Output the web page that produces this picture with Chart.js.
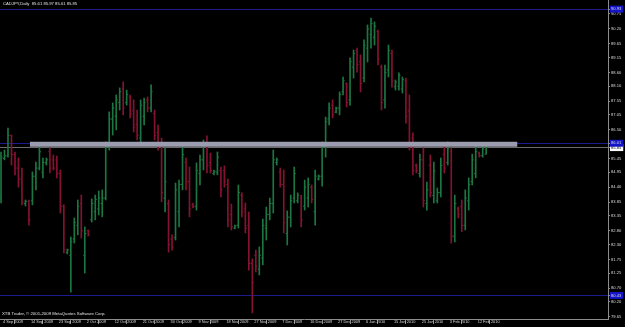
<!DOCTYPE html>
<html>
<head>
<meta charset="utf-8">
<script src="https://cdn.jsdelivr.net/npm/chart.js@4.4.1/dist/chart.umd.min.js"></script>
<style>
  html, body { margin: 0; padding: 0; background: #000; }
  #wrap { position: relative; width: 625px; height: 327px; background: #000; overflow: hidden; }
  canvas { position: absolute; left: 0; top: 0; }
  .txt { position: absolute; color: #e0e0e0; font-family: 'Liberation Sans', Arial, sans-serif; white-space: pre; line-height: 1; }
</style>
</head>
<body>
<div id="wrap">
  <canvas id="c" width="625" height="327"></canvas>
  <div class="txt" id="title" style="left:3px; top:2px; font-size:4.2px;"></div>
  <div class="txt" id="copy" style="left:2px; top:312px; font-size:4.3px;"></div>
</div>
<script>
// ---- categories (one per daily bar) ----
const dates = [
 '4 Sep 2009','6 Sep 2009','7 Sep 2009','8 Sep 2009','9 Sep 2009','10 Sep 2009','11 Sep 2009','13 Sep 2009','14 Sep 2009','15 Sep 2009',
 '16 Sep 2009','17 Sep 2009','18 Sep 2009','20 Sep 2009','21 Sep 2009','22 Sep 2009','23 Sep 2009','24 Sep 2009','25 Sep 2009','27 Sep 2009',
 '28 Sep 2009','29 Sep 2009','30 Sep 2009','1 Oct 2009','2 Oct 2009','4 Oct 2009','5 Oct 2009','6 Oct 2009','7 Oct 2009','8 Oct 2009',
 '9 Oct 2009','11 Oct 2009','12 Oct 2009','13 Oct 2009','14 Oct 2009','15 Oct 2009','16 Oct 2009','18 Oct 2009','19 Oct 2009','20 Oct 2009',
 '21 Oct 2009','22 Oct 2009','23 Oct 2009','25 Oct 2009','26 Oct 2009','27 Oct 2009','28 Oct 2009','29 Oct 2009','30 Oct 2009','1 Nov 2009',
 '2 Nov 2009','3 Nov 2009','4 Nov 2009','5 Nov 2009','6 Nov 2009','8 Nov 2009','9 Nov 2009','10 Nov 2009','11 Nov 2009','12 Nov 2009',
 '13 Nov 2009','15 Nov 2009','16 Nov 2009','17 Nov 2009','18 Nov 2009','19 Nov 2009','20 Nov 2009','22 Nov 2009','23 Nov 2009','24 Nov 2009',
 '25 Nov 2009','26 Nov 2009','27 Nov 2009','29 Nov 2009','30 Nov 2009','1 Dec 2009','2 Dec 2009','3 Dec 2009','4 Dec 2009','6 Dec 2009',
 '7 Dec 2009','8 Dec 2009','9 Dec 2009','10 Dec 2009','11 Dec 2009','13 Dec 2009','14 Dec 2009','15 Dec 2009','16 Dec 2009','17 Dec 2009',
 '18 Dec 2009','20 Dec 2009','21 Dec 2009','22 Dec 2009','23 Dec 2009','24 Dec 2009','27 Dec 2009','28 Dec 2009','29 Dec 2009','30 Dec 2009',
 '31 Dec 2009','3 Jan 2010','4 Jan 2010','5 Jan 2010','6 Jan 2010','7 Jan 2010','8 Jan 2010','10 Jan 2010','11 Jan 2010','12 Jan 2010',
 '13 Jan 2010','14 Jan 2010','15 Jan 2010','17 Jan 2010','18 Jan 2010','19 Jan 2010','20 Jan 2010','21 Jan 2010','22 Jan 2010','24 Jan 2010',
 '25 Jan 2010','26 Jan 2010','27 Jan 2010','28 Jan 2010','29 Jan 2010','31 Jan 2010','1 Feb 2010','2 Feb 2010','3 Feb 2010','4 Feb 2010',
 '5 Feb 2010','7 Feb 2010','8 Feb 2010','9 Feb 2010','10 Feb 2010','11 Feb 2010','12 Feb 2010','14 Feb 2010','15 Feb 2010','16 Feb 2010'
];

// ---- series values (CADJPY daily OHLC) ----
const openP = [
 84.00,85.45,85.55,86.30,85.60,85.10,84.70,83.80,83.88,83.90,
 84.80,85.10,84.95,85.30,85.70,85.40,85.40,84.90,83.70,82.00,
 81.90,82.50,83.00,83.80,81.90,82.80,83.20,83.50,83.60,83.80,
 84.00,85.90,86.90,87.00,87.50,88.00,87.50,87.70,87.20,86.70,
 86.20,87.00,87.60,87.30,87.10,86.40,85.90,84.00,83.80,82.50,
 82.55,83.50,84.50,85.30,84.60,83.75,83.70,84.90,85.40,86.00,
 85.30,84.90,84.95,85.00,85.00,84.50,83.40,82.90,83.00,84.10,
 83.60,83.00,81.60,81.90,81.40,81.80,82.90,83.40,83.80,85.30,
 84.95,84.50,82.70,83.30,84.00,83.90,84.00,83.70,84.00,84.40,
 83.50,84.70,84.80,85.90,86.90,87.40,87.15,87.30,87.90,88.20,
 87.60,88.80,89.40,89.00,88.40,89.50,90.00,89.90,90.10,88.80,
 87.60,88.70,89.30,88.10,88.10,88.00,88.30,87.20,86.20,85.20,
 84.90,85.40,83.80,85.20,84.10,83.90,84.20,85.60,85.30,85.70,
 82.60,83.60,83.70,83.00,83.90,84.60,84.90,85.65,85.55,85.61
];
const highP = [
 85.69,85.76,86.57,86.31,85.69,85.47,85.10,83.93,83.93,84.96,
 85.32,85.95,85.47,85.47,85.84,85.58,85.54,85.03,83.75,82.13,
 82.57,83.27,83.93,84.11,82.94,82.83,83.97,84.11,84.26,84.30,
 86.06,87.16,87.49,87.78,88.04,88.26,87.96,87.78,87.60,87.23,
 87.60,87.67,87.71,88.15,87.23,86.68,86.20,85.84,83.93,82.65,
 84.55,84.66,85.95,85.47,85.14,83.82,85.29,85.58,86.13,86.28,
 85.65,85.03,85.69,85.14,85.18,84.70,83.78,83.01,84.48,84.19,
 83.82,83.49,81.77,82.09,82.21,83.23,83.67,84.00,85.76,85.47,
 85.10,85.03,83.53,84.11,85.14,84.19,84.11,84.66,84.74,84.48,
 85.03,84.85,86.06,86.97,87.49,87.60,87.34,87.89,88.44,88.22,
 89.14,89.43,89.50,89.25,89.80,90.35,90.60,90.46,90.16,88.88,
 88.88,89.61,89.43,88.33,88.59,88.44,88.40,87.78,86.39,85.25,
 85.61,85.84,84.59,85.58,85.32,84.37,85.47,85.87,86.06,85.84,
 84.11,83.67,83.93,84.30,84.74,85.61,85.98,85.69,85.91,85.97
];
const lowP = [
 83.82,85.40,85.50,85.21,84.85,84.40,83.75,83.71,83.01,83.75,
 84.30,85.03,84.74,85.21,84.92,85.03,84.74,83.45,81.99,81.95,
 80.55,82.35,82.65,82.53,81.25,82.61,83.12,83.20,83.38,83.31,
 83.93,85.76,86.31,86.50,87.23,87.05,87.41,86.94,86.42,86.13,
 85.95,86.68,87.16,87.16,86.13,85.76,83.86,83.49,82.02,82.09,
 82.46,82.94,84.30,84.30,83.31,83.64,83.56,84.48,85.03,84.92,
 84.92,84.85,84.85,84.04,84.40,82.94,82.83,82.87,82.90,83.31,
 82.72,81.36,79.79,81.29,81.18,81.55,82.46,83.20,83.45,85.21,
 84.40,82.72,82.28,82.94,83.82,83.82,82.94,83.56,83.67,83.82,
 83.01,84.66,84.44,85.50,86.68,86.94,87.12,87.05,87.78,87.34,
 87.41,88.40,88.62,87.89,88.26,88.99,89.50,89.61,88.88,87.23,
 87.30,88.44,88.07,87.96,87.96,87.85,86.75,85.76,84.85,84.92,
 84.77,83.67,83.56,84.04,83.82,83.82,84.04,84.92,85.21,82.35,
 82.39,83.27,82.77,82.83,83.56,84.48,84.74,85.50,85.50,85.61
];
const closeP = [
 85.50,85.55,86.30,85.60,85.10,84.70,83.85,83.88,83.20,84.80,
 85.10,85.70,85.30,85.40,85.10,85.10,84.90,83.70,82.10,82.10,
 82.40,83.10,83.70,82.80,82.70,82.65,83.80,83.95,84.00,84.00,
 85.90,86.90,87.30,87.60,87.90,87.30,87.80,87.10,86.60,86.30,
 87.40,87.50,87.30,87.90,86.30,85.90,84.20,84.60,82.30,82.20,
 84.30,84.50,85.60,84.60,83.60,83.68,85.00,85.40,85.90,85.20,
 85.00,84.98,85.50,84.30,84.60,83.20,82.95,82.98,84.20,83.50,
 82.90,81.60,80.90,81.50,81.90,83.00,83.40,83.80,85.40,85.40,
 84.50,83.10,83.30,83.90,84.90,84.10,83.20,84.40,84.50,83.95,
 84.80,84.80,85.90,86.80,87.30,87.05,87.30,87.80,88.30,87.50,
 89.00,89.30,88.90,88.20,89.60,90.20,90.40,90.30,89.10,87.50,
 88.60,89.40,88.30,88.25,88.50,88.35,87.00,86.00,85.00,85.00,
 85.40,83.90,84.30,84.20,85.00,84.20,85.20,85.10,85.80,82.60,
 83.80,83.40,83.00,84.00,84.50,85.40,85.70,85.55,85.80,85.85
];

// ---- tick labels ----
const xTickLabels = ['4 Sep 2009','14 Sep 2009','23 Sep 2009','2 Oct 2009','12 Oct 2009','21 Oct 2009','30 Oct 2009',
 '9 Nov 2009','18 Nov 2009','27 Nov 2009','7 Dec 2009','16 Dec 2009','27 Dec 2009','6 Jan 2010','15 Jan 2010',
 '25 Jan 2010','3 Feb 2010','12 Feb 2010'];
const yTickValues = [90.75,90.20,89.65,89.15,88.60,88.10,87.55,87.05,86.50,85.45,84.95,84.40,83.85,83.35,82.80,82.30,81.75,81.25,80.70,80.20,79.65];

// ---- drawn objects (horizontal lines, bid line, rectangle zone) ----
const hLinePrices = [90.93, 86.01, 80.43];
const bidPrice = 85.85;
const zoneBarIndex = [8.3, 147.9];   // start / end in bar index units (time)
const zonePrice = 85.97;

const titleText = 'CADJPY,Daily  85.61 85.97 85.61 85.85';
const copyText = 'XTB Trader, \u00A9 2001-2009 MetaQuotes Software Corp.';
document.getElementById('title').textContent = titleText;
document.getElementById('copy').textContent = copyText;

const UP = '#1c7642', DOWN = '#861232';
const barColors = openP.map((o, i) => closeP[i] >= o ? UP : DOWN);
const idx = dates.map((d, i) => i);

const levelTicks = [...hLinePrices, bidPrice];
const allYTicks = [...yTickValues, ...levelTicks].sort((a, b) => a - b);
const isLevel = v => levelTicks.some(l => Math.abs(l - v) < 1e-6);
const isBid = v => Math.abs(v - bidPrice) < 1e-6;

const XFONT = { family: "'Liberation Sans', Arial, sans-serif", size: 3.9 };
const YFONT = { family: "'Liberation Sans', Arial, sans-serif", size: 4.1 };
const noPad = s => { s.paddingLeft = 0; s.paddingRight = 0; s.paddingTop = 0; s.paddingBottom = 0; };

new Chart(document.getElementById('c'), {
  type: 'bar',
  data: {
    datasets: [
      {
        type: 'line', order: 0,
        data: zoneBarIndex.map(x => ({ x: x, y: zonePrice })),
        borderColor: '#9c9cb0', borderWidth: 5, borderCapStyle: 'butt',
        pointRadius: 0
      },
      {
        type: 'line', order: 1, showLine: false,
        data: idx.map(i => ({ x: i, y: openP[i] })),
        pointStyle: 'dash', pointRotation: 180, pointRadius: 1.6,
        pointBorderColor: barColors, pointBackgroundColor: barColors, pointBorderWidth: 1
      },
      {
        type: 'line', order: 1, showLine: false,
        data: idx.map(i => ({ x: i, y: closeP[i] })),
        pointStyle: 'dash', pointRotation: 0, pointRadius: 1.6,
        pointBorderColor: barColors, pointBackgroundColor: barColors, pointBorderWidth: 1
      },
      {
        type: 'bar', order: 2, grouped: false,
        data: idx.map(i => ({ x: i, y: [lowP[i], highP[i]] })),
        backgroundColor: barColors, borderWidth: 0, barThickness: 1
      }
    ]
  },
  options: {
    responsive: false,
    animation: false,
    devicePixelRatio: 1,
    layout: { padding: 0, autoPadding: false },
    plugins: { legend: { display: false }, tooltip: { enabled: false } },
    scales: {
      x: {
        type: 'linear', bounds: 'data', offset: false,
        min: -0.29, max: 173.9,
        afterFit: s => { s.height = 8; noPad(s); },
        afterBuildTicks: s => { s.ticks = xTickLabels.map(l => ({ value: dates.indexOf(l) })); },
        border: { display: true, color: '#8c8c8c', width: 1 },
        grid: { drawOnChartArea: false, drawTicks: true, tickLength: 5, tickColor: '#8c8c8c' },
        ticks: {
          autoSkip: false, maxRotation: 0, minRotation: 0, align: 'start',
          labelOffset: 2, padding: -4, color: '#d8d8d8', font: XFONT,
          callback: v => dates[v]
        }
      },
      y: {
        type: 'linear', position: 'right', bounds: 'data',
        min: 79.565, max: 91.263,
        afterFit: s => { s.width = 17; noPad(s); },
        afterBuildTicks: s => { s.ticks = allYTicks.map(v => ({ value: v })); },
        border: { display: true, color: '#8c8c8c', width: 1 },
        grid: {
          drawOnChartArea: true, drawTicks: true, tickLength: 2,
          tickColor: '#8c8c8c',
          color: ctx => {
            const v = ctx.tick ? ctx.tick.value : null;
            if (v === null || !isLevel(v)) return 'rgba(0,0,0,0)';
            return isBid(v) ? '#6c6c6c' : '#1c1c8e';
          }
        },
        ticks: {
          autoSkip: false, padding: 1, font: YFONT,
          color: ctx => (isLevel(ctx.tick.value) && isBid(ctx.tick.value)) ? '#000000' : '#d8d8d8',
          showLabelBackdrop: ctx => isLevel(ctx.tick.value),
          backdropColor: ctx => isBid(ctx.tick.value) ? '#ffffff' : '#1414c8',
          backdropPadding: { top: 1, bottom: 1, left: 1, right: 2 },
          callback: v => v.toFixed(2)
        }
      }
    }
  }
});
</script>
</body>
</html>
